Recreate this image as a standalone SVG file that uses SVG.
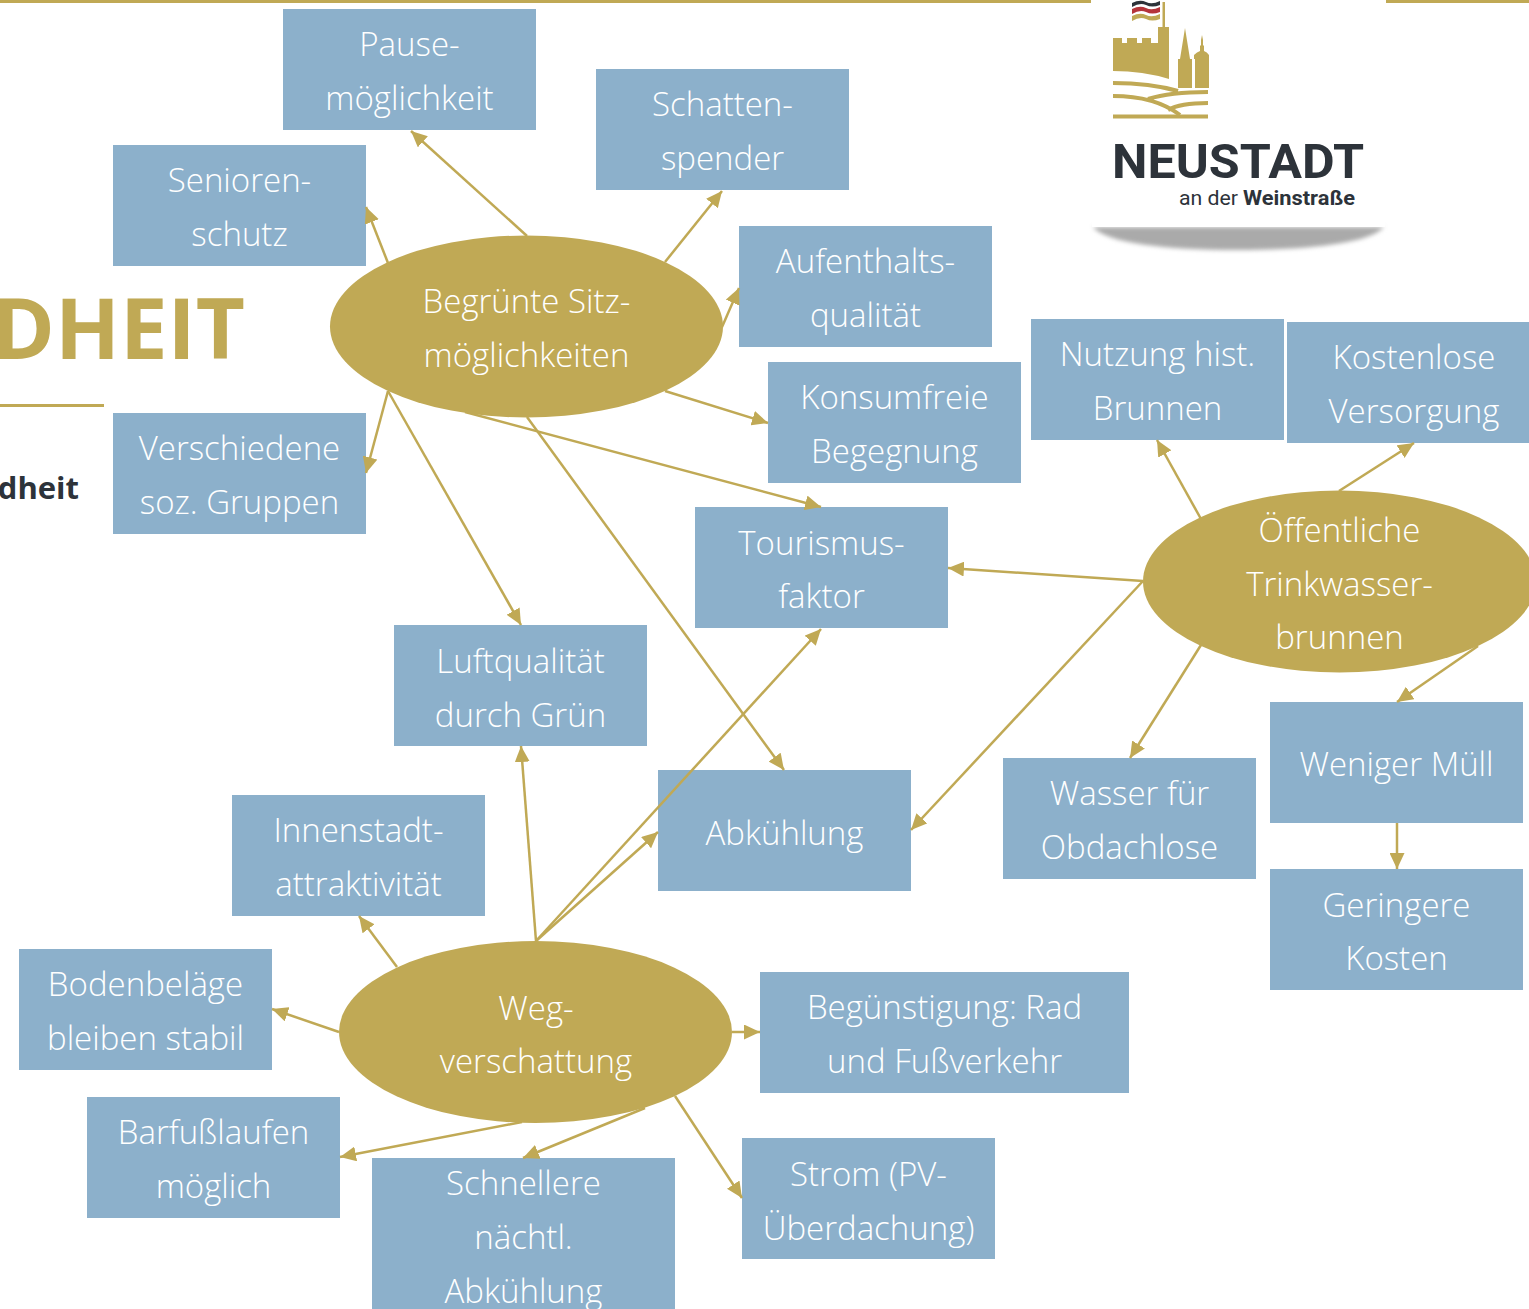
<svg xmlns="http://www.w3.org/2000/svg" width="1529" height="1309" viewBox="0 0 1529 1309">
<style>
.b{fill:#8cb0cb}
.e{fill:#c0a955}
.h{fill:none;stroke:#c0a955;stroke-width:4}
.t{font-family:"Open Sans","Noto Sans","Liberation Sans",sans-serif;font-weight:300;font-size:33px;fill:#fff;text-anchor:middle;transform:translateY(1px)}
.c line{stroke:#c0a955;stroke-width:2.5;marker-end:url(#a)}
</style>
<defs>
<marker id="a" markerUnits="userSpaceOnUse" viewBox="0 0 16 15" refX="16" refY="7.5" markerWidth="16" markerHeight="15" orient="auto"><path d="M0 0L16 7.5L0 15z" fill="#c0a955"/></marker>
<filter id="s" x="-10%" y="-50%" width="120%" height="200%"><feGaussianBlur stdDeviation="2"/></filter>
</defs>
<rect width="1529" height="1309" fill="#fff"/>
<g id="header">
<rect x="0" y="0" width="1091" height="3" class="e"/><rect x="1386" y="0" width="143" height="3" class="e"/>
<rect x="0" y="404" width="104" height="3" class="e"/>
<text x="245" y="359" text-anchor="end" font-family="Open Sans,sans-serif" font-weight="700" font-size="85" fill="#c0a955">DHEIT</text>
<text x="79" y="499" text-anchor="end" font-family="Open Sans,sans-serif" font-weight="700" font-size="31" fill="#2d333a">dheit</text>
</g>
<g id="logo">
<path d="M1093 227H1384C1370 243 1310 250 1238 250C1165 250 1106 243 1093 227Z" fill="#aaa" filter="url(#s)"/>
<rect x="1092" y="0" width="293" height="227" fill="#fff"/>
<path d="M1162.500 2h2.500v26h-2.500z" class="e"/>
<path d="M1132 16q8-4 14-1t14-1v5q-8 3-14 0t-14 2z" fill="#c0a955"/>
<path d="M1132 3q8-4 14-1t14-1v4q-8 3-14 0t-14 2z" fill="#2d333a"/>
<path d="M1132 9q8-4 14-1t14-1v5q-8 3-14 0t-14 2z" fill="#b5343a"/>
<path d="M1113 71V38h9v5h5v-5h10v5h5v-5h9v5h7V27h11v52q-26-8-56-8z" class="e"/>
<path d="M1178 88V59h2l5-31 5 31h2v29z" class="e"/>
<path d="M1195 88V59h-1v-4q3-3 6-4v-5l1-1v-5l1-5 1 5v5l1 1v5q3 1 5 4v4v29z" class="e"/>
<path class="h" d="M1113 83Q1150 83 1178 91M1148 99Q1170 92 1208 92M1113 96Q1155 96 1180 115M1168 110Q1180 103 1208 103"/>
<rect x="1113" y="114.500" width="95" height="4" class="e"/>
<text x="1238" y="178" text-anchor="middle" font-family="Roboto,sans-serif" font-weight="700" font-size="49" fill="#2d333a" textLength="252" lengthAdjust="spacingAndGlyphs">NEUSTADT</text>
<text x="1179" y="205" font-family="Roboto,sans-serif" font-size="20" fill="#2d333a" textLength="59" lengthAdjust="spacingAndGlyphs">an der</text>
<text x="1243" y="205" font-family="Roboto,sans-serif" font-size="20" font-weight="700" fill="#2d333a" textLength="112" lengthAdjust="spacingAndGlyphs">Weinstraße</text>
</g>
<g id="n-pause"><rect class="b" x="283" y="9" width="253" height="121"/><text class="t" x="409.500" y="55">Pause-</text><text class="t" x="409.500" y="109">möglichkeit</text></g>
<g id="n-schatten"><rect class="b" x="596" y="69" width="253" height="121"/><text class="t" x="722.500" y="115">Schatten-</text><text class="t" x="722.500" y="169">spender</text></g>
<g id="n-senioren"><rect class="b" x="113" y="145" width="253" height="121"/><text class="t" x="239.500" y="191">Senioren-</text><text class="t" x="239.500" y="245">schutz</text></g>
<g id="n-aufenthalt"><rect class="b" x="739" y="226" width="253" height="121"/><text class="t" x="865.500" y="272">Aufenthalts-</text><text class="t" x="865.500" y="326">qualität</text></g>
<g id="n-konsum"><rect class="b" x="768" y="362" width="253" height="121"/><text class="t" x="894.500" y="408">Konsumfreie</text><text class="t" x="894.500" y="462">Begegnung</text></g>
<g id="n-gruppen"><rect class="b" x="113" y="413" width="253" height="121"/><text class="t" x="239.500" y="459">Verschiedene</text><text class="t" x="239.500" y="513">soz. Gruppen</text></g>
<g id="n-brunnen"><rect class="b" x="1031" y="319" width="253" height="121"/><text class="t" x="1157.500" y="365">Nutzung hist.</text><text class="t" x="1157.500" y="419">Brunnen</text></g>
<g id="n-versorgung"><rect class="b" x="1287" y="322" width="242" height="121"/><text class="t" x="1414" y="368">Kostenlose</text><text class="t" x="1414" y="422">Versorgung</text></g>
<g id="n-tourismus"><rect class="b" x="695" y="507" width="253" height="121"/><text class="t" x="821.500" y="554">Tourismus-</text><text class="t" x="821.500" y="607">faktor</text></g>
<g id="n-luft"><rect class="b" x="394" y="625" width="253" height="121"/><text class="t" x="520.500" y="672">Luftqualität</text><text class="t" x="520.500" y="726">durch Grün</text></g>
<g id="n-innenstadt"><rect class="b" x="232" y="795" width="253" height="121"/><text class="t" x="358.500" y="841">Innenstadt-</text><text class="t" x="358.500" y="895">attraktivität</text></g>
<g id="n-abkuehlung"><rect class="b" x="658" y="770" width="253" height="121"/><text class="t" x="784.500" y="844">Abkühlung</text></g>
<g id="n-wasser"><rect class="b" x="1003" y="758" width="253" height="121"/><text class="t" x="1129.500" y="804">Wasser für</text><text class="t" x="1129.500" y="858">Obdachlose</text></g>
<g id="n-muell"><rect class="b" x="1270" y="702" width="253" height="121"/><text class="t" x="1396.500" y="775">Weniger Müll</text></g>
<g id="n-kosten"><rect class="b" x="1270" y="869" width="253" height="121"/><text class="t" x="1396.500" y="916">Geringere</text><text class="t" x="1396.500" y="969">Kosten</text></g>
<g id="n-boden"><rect class="b" x="19" y="949" width="253" height="121"/><text class="t" x="145.500" y="995">Bodenbeläge</text><text class="t" x="145.500" y="1049">bleiben stabil</text></g>
<g id="n-rad"><rect class="b" x="760" y="972" width="369" height="121"/><text class="t" x="944.500" y="1018">Begünstigung: Rad</text><text class="t" x="944.500" y="1072">und Fußverkehr</text></g>
<g id="n-barfuss"><rect class="b" x="87" y="1097" width="253" height="121"/><text class="t" x="213.500" y="1143">Barfußlaufen</text><text class="t" x="213.500" y="1197">möglich</text></g>
<g id="n-nacht"><rect class="b" x="372" y="1158" width="303" height="151"/><text class="t" x="523.500" y="1194">Schnellere</text><text class="t" x="523.500" y="1248">nächtl.</text><text class="t" x="523.500" y="1302">Abkühlung</text></g>
<g id="n-strom"><rect class="b" x="742" y="1138" width="253" height="121"/><text class="t" x="868.500" y="1185">Strom (PV-</text><text class="t" x="868.500" y="1239">Überdachung)</text></g>
<g id="connectors" class="c">
<line x1="388" y1="263" x2="366" y2="207"/>
<line x1="527" y1="236" x2="411" y2="131"/>
<line x1="665" y1="262" x2="722" y2="191"/>
<line x1="722" y1="327" x2="739" y2="288"/>
<line x1="665" y1="391" x2="768" y2="423"/>
<line x1="465" y1="412" x2="821" y2="507"/>
<line x1="388" y1="391" x2="366" y2="473"/>
<line x1="388" y1="391" x2="521" y2="625"/>
<line x1="527" y1="417" x2="784" y2="770"/>
<line x1="1201" y1="519" x2="1157" y2="440"/>
<line x1="1339" y1="491" x2="1414" y2="443"/>
<line x1="1143" y1="581" x2="948" y2="568"/>
<line x1="1143" y1="581" x2="911" y2="830"/>
<line x1="1201" y1="645" x2="1130" y2="758"/>
<line x1="1478" y1="646" x2="1397" y2="702"/>
<line x1="1397" y1="823" x2="1397" y2="869"/>
<line x1="536" y1="941" x2="521" y2="746"/>
<line x1="536" y1="941" x2="821" y2="629"/>
<line x1="536" y1="941" x2="658" y2="832"/>
<line x1="397" y1="967" x2="359" y2="916"/>
<line x1="339" y1="1032" x2="272" y2="1009"/>
<line x1="732" y1="1032" x2="760" y2="1032"/>
<line x1="522" y1="1122" x2="340" y2="1157"/>
<line x1="645" y1="1108" x2="523" y2="1158"/>
<line x1="675" y1="1096" x2="742" y2="1198"/>
</g>
<g id="n-sitz"><ellipse class="e" cx="526.500" cy="326.500" rx="196.500" ry="91"/><text class="t" x="526.500" y="312">Begrünte Sitz-</text><text class="t" x="526.500" y="366">möglichkeiten</text></g>
<g id="n-trinkwasser"><ellipse class="e" cx="1339.500" cy="581.500" rx="196.500" ry="91"/><text class="t" x="1339.500" y="541">Öffentliche</text><text class="t" x="1339.500" y="595">Trinkwasser-</text><text class="t" x="1339.500" y="648">brunnen</text></g>
<g id="n-weg"><ellipse class="e" cx="535.500" cy="1032" rx="196.500" ry="91"/><text class="t" x="536" y="1019">Weg-</text><text class="t" x="536" y="1072">verschattung</text></g>
</svg>
